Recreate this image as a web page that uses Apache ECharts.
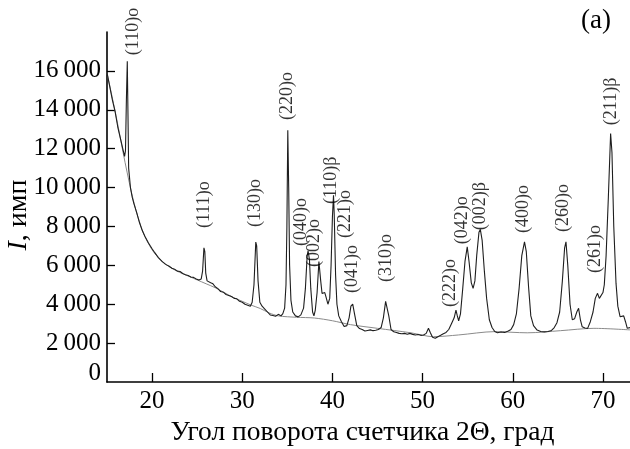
<!DOCTYPE html>
<html>
<head>
<meta charset="utf-8">
<script src="https://cdn.jsdelivr.net/npm/echarts@6/dist/echarts.min.js"></script>
<style>
html,body{margin:0;padding:0;background:#fff;}
#chart{width:630px;height:449px;}
</style>
</head>
<body>
<div id="chart"></div>
<script>
// Diffraction pattern (2Theta, intensity)
var curveX = [15.0,15.3,15.6,15.9,16.2,16.5,16.8,16.95,17.05,17.15,17.25,17.32,17.4,17.6,17.8,18.0,18.3,18.6,18.9,19.2,19.6,20.0,20.3,20.7,21.1,21.5,21.9,22.2,22.5,22.8,23.1,23.4,23.7,24.0,24.3,24.6,24.9,25.2,25.45,25.6,25.75,25.85,25.95,26.1,26.3,26.5,26.6,26.75,27.0,27.3,27.6,27.9,28.2,28.5,28.8,29.1,29.4,29.7,30.0,30.3,30.6,30.9,31.1,31.3,31.5,31.6,31.75,31.95,32.2,32.5,32.8,33.1,33.4,33.7,34.0,34.3,34.5,34.7,34.85,34.95,35.05,35.15,35.25,35.4,35.6,35.9,36.2,36.5,36.8,37.0,37.2,37.3,37.45,37.6,37.8,37.95,38.1,38.3,38.5,38.6,38.7,38.85,39.0,39.15,39.3,39.5,39.7,39.85,40.0,40.12,40.2,40.35,40.5,40.7,41.0,41.3,41.6,41.85,42.05,42.25,42.45,42.7,43.0,43.3,43.6,43.9,44.2,44.5,44.8,45.1,45.4,45.65,45.9,46.05,46.25,46.5,46.8,47.1,47.4,47.7,48.0,48.3,48.6,48.9,49.2,49.5,49.8,50.1,50.4,50.65,50.85,51.1,51.4,51.7,52.0,52.3,52.6,52.9,53.2,53.5,53.7,53.85,54.0,54.2,54.45,54.7,54.95,55.15,55.4,55.6,55.8,56.0,56.25,56.4,56.6,56.85,57.1,57.4,57.7,58.0,58.3,58.7,59.1,59.5,59.8,60.1,60.4,60.7,61.0,61.3,61.5,61.75,62.0,62.3,62.7,63.1,63.5,63.9,64.3,64.6,64.9,65.2,65.5,65.75,65.9,66.1,66.35,66.6,66.85,67.1,67.3,67.5,67.7,68.0,68.3,68.6,68.9,69.15,69.4,69.6,69.8,70.0,70.15,70.35,70.6,70.85,71.0,71.2,71.45,71.65,71.9,72.1,72.3,72.5,72.7,73.0];
var curveY = [15900,15200,14500,13900,13100,12500,11900,11600,11900,14500,16500,14000,11000,10000,9500,9150,8700,8200,7800,7500,7150,6850,6650,6400,6200,6050,5950,5850,5800,5700,5680,5580,5520,5480,5400,5380,5300,5250,5300,5700,6900,6700,5600,5200,5150,5100,5200,5050,4900,4800,4650,4620,4500,4450,4400,4300,4280,4150,4100,4000,3950,3900,4100,5000,7200,7000,5200,4100,3900,3750,3600,3450,3420,3380,3480,3400,3520,3800,5000,8000,12950,10000,6000,4200,3600,3400,3350,3450,3800,4800,6500,6750,6300,4800,3600,3400,3700,4600,6200,6270,5200,4550,4450,4600,4350,4000,4300,6000,8500,9600,8600,5500,4000,3400,3100,2850,2900,3300,3900,4010,3500,2900,2750,2700,2620,2650,2680,2640,2660,2700,2800,3300,4150,4100,3400,2700,2580,2550,2500,2480,2500,2460,2500,2450,2420,2440,2400,2420,2500,2760,2550,2300,2250,2330,2400,2480,2550,2700,3000,3300,3700,3400,3150,3500,4800,6200,6950,6200,5100,4820,5200,6500,7700,7850,7300,5700,4300,3200,2800,2600,2530,2570,2550,2620,2700,2950,3500,4800,6500,7210,6700,4900,3400,2900,2670,2600,2580,2600,2650,2800,3050,3600,5200,6900,7210,6000,4000,3200,3250,3600,3790,3200,2840,2780,2760,3100,3600,4300,4560,4300,4215,4600,5000,6500,9500,12780,11800,8000,5070,3900,3360,3300,3400,3100,2760,2800];

// Smooth background line
var bgX = [15,16,17,18,19,20,21,22,23,24,25,26,27,28,29,30,31,32,33,34,36,38,40,42,45,48.7,51.2,54,58,61.6,65.3,69,73];
var bgY = [15900,13700,11300,9200,7700,6800,6250,5900,5650,5450,5250,5050,4850,4600,4350,4150,3950,3780,3550,3400,3330,3290,3150,2950,2760,2530,2330,2420,2590,2530,2640,2760,2680];

// Peak annotations (label text, position of label start)
var peakNames = ['(110)o','(111)o','(130)o','(220)o','(040)o','(002)o','(110)\u03b2','(221)o','(041)o','(310)o','(222)o','(042)o','(002)\u03b2','(400)o','(260)o','(261)o','(211)\u03b2'];
var peakLabelX = [17.9,25.8,31.45,35.0,36.55,38.0,39.9,41.45,42.2,46.0,53.1,54.45,56.45,61.2,65.65,69.2,70.9];
var peakLabelY = [16810,7920,7970,13470,6990,5910,9150,7400,4575,5140,3855,7090,7810,7660,7710,5600,13210];

var xTicks = [20,30,40,50,60,70];
var yTicks = [0,2000,4000,6000,8000,10000,12000,14000,16000];

var FONT = '"Liberation Serif","DejaVu Serif",serif';

var curve = curveX.map(function(x,i){return [x, curveY[i]];});
var bg = bgX.map(function(x,i){return [x, bgY[i]];});
var peaks = peakLabelX.map(function(x,i){return {value:[x, peakLabelY[i]], name: peakNames[i]};});

function fmtY(v){
  if (v === 0) return '{z|0}';
  var s = String(v);
  if (v >= 1000) s = s.slice(0, s.length-3) + '\u2009' + s.slice(s.length-3);
  return s;
}

var chart = echarts.init(document.getElementById('chart'), null, {renderer:'canvas'});
chart.setOption({
  animation: false,
  backgroundColor: '#fff',
  title: {
    text: '(a)', right: 14, top: 2,
    textStyle: {fontFamily: FONT, fontSize: 27, fontWeight: 'normal', color: '#000'}
  },
  grid: {left: 107, right: 0, top: 32, bottom: 67, containLabel: false, outerBoundsMode: 'none'},
  xAxis: {
    type: 'value', min: 15, max: 73,
    name: 'Угол поворота счетчика 2\u0398, град',
    nameLocation: 'middle', nameGap: 37, nameMoveOverlap: false,
    nameTextStyle: {fontFamily: FONT, fontSize: 27.5, color: '#000', padding: [0, 12, 0, 0]},
    axisLine: {show: true, lineStyle: {color: '#000', width: 1.6}},
    axisTick: {show: true, inside: true, length: 9, customValues: xTicks, lineStyle: {color: '#000', width: 1.3}},
    axisLabel: {customValues: xTicks, margin: 7, fontFamily: FONT, fontSize: 25, color: '#000'},
    splitLine: {show: false}
  },
  yAxis: {
    type: 'value', min: 0, max: 18000,
    name: '{i|I}, имп',
    nameLocation: 'middle', nameGap: 74, nameRotate: 90, nameMoveOverlap: false,
    nameTextStyle: {fontFamily: FONT, fontSize: 28, color: '#000', padding: [0, 16, 0, 0],
      rich: {i: {fontFamily: FONT, fontSize: 28, fontStyle: 'italic', color: '#000'}}},
    axisLine: {show: true, onZero: false, lineStyle: {color: '#000', width: 1.6}},
    axisTick: {show: true, inside: true, length: 8, customValues: yTicks.slice(1), lineStyle: {color: '#000', width: 1.3}},
    axisLabel: {customValues: yTicks, margin: 6, fontFamily: FONT, fontSize: 25, color: '#000',
      formatter: fmtY,
      rich: {z: {fontFamily: FONT, fontSize: 25, color: '#000', padding: [0,0,18,0]}}},
    splitLine: {show: false}
  },
  series: [
    {
      type: 'line', data: bg, showSymbol: false, symbol: 'none', smooth: 0.3,
      lineStyle: {color: '#8a8a8a', width: 1}, z: 2, silent: true
    },
    {
      type: 'line', data: curve, showSymbol: false, symbol: 'none',
      lineStyle: {color: '#1e1e1e', width: 1.1}, z: 3, silent: true
    },
    {
      type: 'scatter', data: peaks, symbolSize: 0, silent: true, z: 5,
      label: {
        show: true, position: 'inside', rotate: 90, align: 'left', verticalAlign: 'middle',
        formatter: function(p){return p.name;},
        fontFamily: FONT, fontSize: 18, color: '#000'
      }
    }
  ]
});
</script>
</body>
</html>
